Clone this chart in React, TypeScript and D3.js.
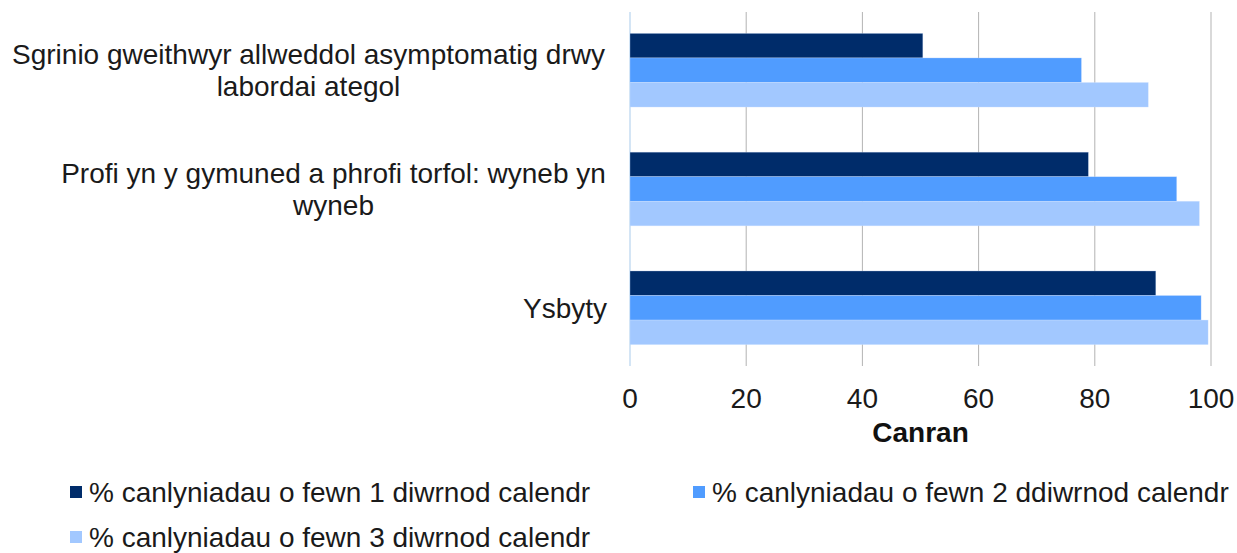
import * as d3 from 'd3'

const categories = [
  ['Sgrinio gweithwyr allweddol asymptomatig drwy', 'labordai ategol'],
  ['Profi yn y gymuned a phrofi torfol: wyneb yn', 'wyneb'],
  ['Ysbyty'],
]
const seriesNames = [
  '% canlyniadau o fewn 1 diwrnod calendr',
  '% canlyniadau o fewn 2 ddiwrnod calendr',
  '% canlyniadau o fewn 3 diwrnod calendr',
]
const within1 = [50.4, 78.9, 90.5]
const within2 = [77.7, 94.1, 98.3]
const within3 = [89.2, 98.0, 99.5]
const xTicks = [0, 20, 40, 60, 80, 100]
const colors = ['#002c6a', '#509cff', '#a2c8ff']

const W = 1237
const H = 553
const font = '"Liberation Sans", Arial, sans-serif'

// label blocks are right-aligned to the axis, lines centred inside each block
const labelRight = 607
const labelBlockWidth = [597, 547, 0]

export default function App() {
  const series = [within1, within2, within3]
  const left = 630
  const right = 1211
  const top = 12
  const bottom = 366

  const x = d3.scaleLinear().domain([0, 100]).range([left, right])
  const y = d3
    .scaleBand()
    .domain(categories.map((_, i) => String(i)))
    .range([top, bottom])
    .paddingInner(0.38)
    .paddingOuter(0.18)
  const inner = d3
    .scaleBand()
    .domain(series.map((_, i) => String(i)))
    .range([0, y.bandwidth()])

  const legendPos = [
    { x: 70, y: 492 },
    { x: 693, y: 492 },
    { x: 70, y: 537 },
  ]

  return (
    <svg width={W} height={H} style={{ position: 'absolute', left: 0, top: 0, background: '#fff' }} fontFamily={font}>
      {xTicks.slice(1).map((t) => (
        <line key={t} x1={x(t)} x2={x(t)} y1={top} y2={bottom} stroke="#b3b3b3" strokeWidth={1} />
      ))}
      <line x1={x(0)} x2={x(0)} y1={top} y2={bottom} stroke="#c6dcf2" strokeWidth={1.5} />

      {categories.map((_, ci) =>
        series.map((s, si) => (
          <rect
            key={`${ci}-${si}`}
            x={x(0)}
            y={(y(String(ci)) ?? 0) + (inner(String(si)) ?? 0)}
            width={x(s[ci]) - x(0)}
            height={inner.bandwidth()}
            fill={colors[si]}
            stroke="#d4e6ff"
            strokeOpacity={0.5}
            strokeWidth={0.6}
          />
        ))
      )}

      {categories.map((lines, ci) => {
        const cy = (y(String(ci)) ?? 0) + y.bandwidth() / 2
        const lh = 32
        const y0 = cy - ((lines.length - 1) * lh) / 2
        const multi = lines.length > 1
        return (
          <text key={ci} fontSize={28} fill="#1a1a1a" textAnchor={multi ? 'middle' : 'end'}>
            {lines.map((ln, li) => (
              <tspan key={li} x={multi ? labelRight - labelBlockWidth[ci] / 2 : labelRight} y={y0 + li * lh} dy="0.35em">
                {ln}
              </tspan>
            ))}
          </text>
        )
      })}

      {xTicks.map((t) => (
        <text key={t} x={x(t)} y={398} dy="0.35em" fontSize={28} textAnchor="middle" fill="#1a1a1a">
          {t}
        </text>
      ))}
      <text x={(left + right) / 2} y={432} dy="0.35em" fontSize={28} fontWeight="bold" textAnchor="middle" fill="#111">
        Canran
      </text>

      {seriesNames.map((name, i) => (
        <g key={name}>
          <rect x={legendPos[i].x} y={legendPos[i].y - 6} width={12} height={12} fill={colors[i]} />
          <text x={legendPos[i].x + 19} y={legendPos[i].y} dy="0.35em" fontSize={28} fill="#1a1a1a">
            {name}
          </text>
        </g>
      ))}
    </svg>
  )
}
